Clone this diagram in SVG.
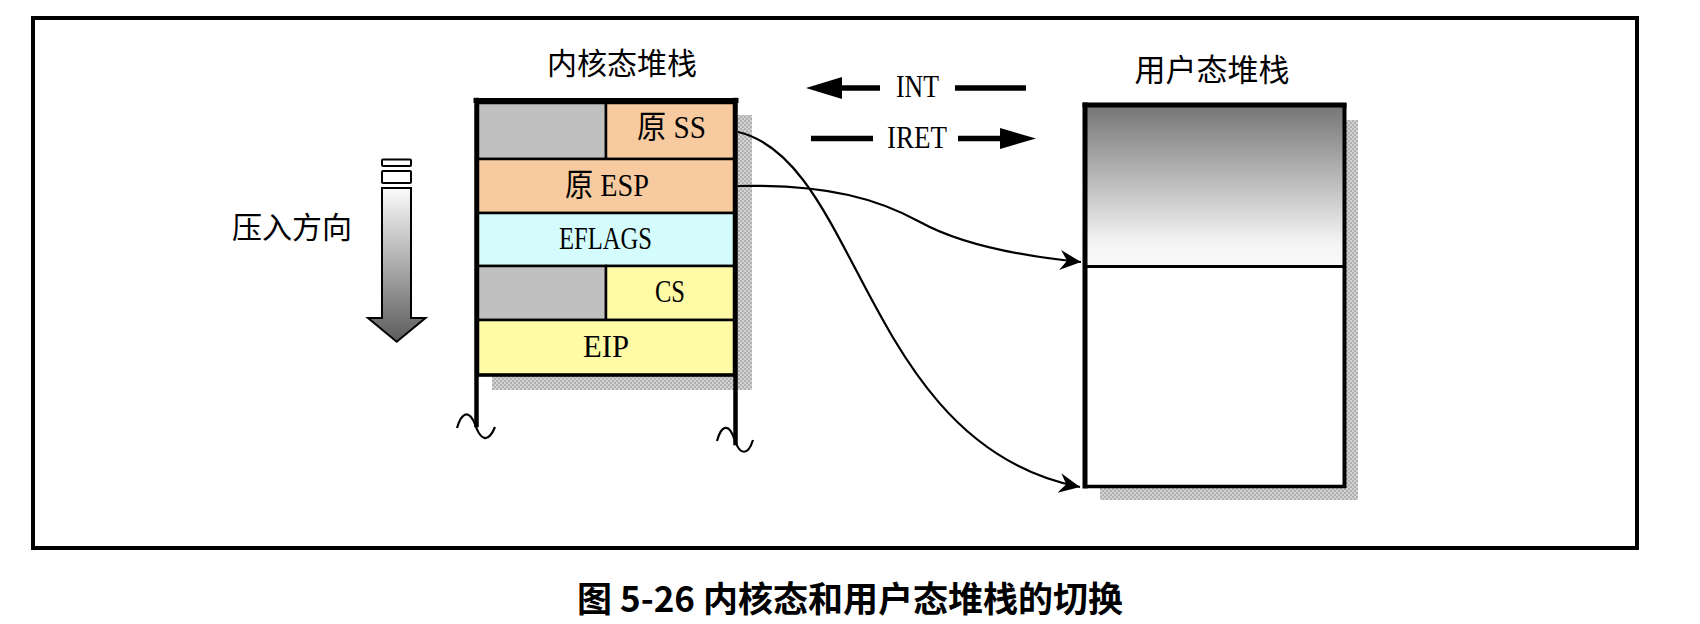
<svg xmlns="http://www.w3.org/2000/svg" width="1700" height="624" viewBox="0 0 1700 624">
<style>
.cjk{font-family:"Noto Sans CJK SC","Noto Sans CJK JP",sans-serif;fill:#000}
.lat{font-family:"Liberation Serif","Noto Sans CJK SC",serif;fill:#000;font-size:32px}
.cell{stroke:#000;stroke-width:2.5}
.edge{fill:none;stroke:#000;stroke-width:2.2}
.thick{stroke:#000;fill:none;stroke-linecap:square}
</style>
<defs>
<pattern id="dots" width="4" height="4" patternUnits="userSpaceOnUse">
<rect width="4" height="4" fill="#d2d2d2"/>
<rect width="2" height="2" fill="#b0b0b0"/>
<rect x="2" y="2" width="2" height="2" fill="#b0b0b0"/>
</pattern>
<linearGradient id="ug" x1="0" y1="0" x2="0" y2="1">
<stop offset="0" stop-color="#757575"/>
<stop offset="0.45" stop-color="#b8b8b8"/>
<stop offset="0.85" stop-color="#f4f4f4"/>
<stop offset="1" stop-color="#fafafa"/>
</linearGradient>
<linearGradient id="pg" x1="0" y1="0" x2="0" y2="1">
<stop offset="0" stop-color="#fbfbfb"/>
<stop offset="1" stop-color="#5c5c5c"/>
</linearGradient>
<marker id="barb" markerUnits="userSpaceOnUse" viewBox="-22 -12 24 24" refX="0" refY="0" markerWidth="24" markerHeight="24" orient="auto">
<path d="M0,0 L-21,-10 L-14,0 L-21,10 Z" fill="#000"/>
</marker>
</defs>
<rect width="1700" height="624" fill="#fff"/>
<g id="frame"><rect x="33" y="18" width="1604" height="530" fill="none" stroke="#000" stroke-width="4"/></g>

<g id="kernel-stack">
<text class="cjk" x="622" y="74" font-size="30" text-anchor="middle">内核态堆栈</text>
<rect x="492" y="115" width="260" height="275" fill="url(#dots)"/>
<rect class="cell" x="478" y="103" width="128" height="56" fill="#c0c0c0"/>
<rect class="cell" x="606" y="103" width="128" height="56" fill="#f7cb9f"/>
<rect class="cell" x="478" y="159" width="256" height="54" fill="#f7cb9f"/>
<rect class="cell" x="478" y="213" width="256" height="53" fill="#d4fcfc"/>
<rect class="cell" x="478" y="266" width="128" height="54" fill="#c0c0c0"/>
<rect class="cell" x="606" y="266" width="128" height="54" fill="#fefaa6"/>
<rect class="cell" x="478" y="320" width="256" height="55" fill="#fefaa6"/>
<line class="thick" x1="476" y1="100.5" x2="736" y2="100.5" stroke-width="5"/>
<line class="thick" x1="476.5" y1="100" x2="476.5" y2="425" stroke-width="4.5" stroke-linecap="butt"/>
<line class="thick" x1="735.5" y1="100" x2="735.5" y2="443" stroke-width="4.5" stroke-linecap="butt"/>
<line x1="478" y1="375" x2="734" y2="375" stroke="#000" stroke-width="3.5"/>
<path class="edge" d="M457,428 C461,414 468,408 475,424 C480,440 488,444 495,427" stroke-width="3"/>
<path class="edge" d="M717,441 C721,426 729,421 735,441 C740,455 748,456 753,440" stroke-width="3"/>
<text class="lat" x="637" y="138" textLength="69" lengthAdjust="spacingAndGlyphs">原 SS</text>
<text class="lat" x="565" y="196" textLength="84" lengthAdjust="spacingAndGlyphs">原 ESP</text>
<text class="lat" x="559" y="249" textLength="93" lengthAdjust="spacingAndGlyphs">EFLAGS</text>
<text class="lat" x="655" y="302" textLength="30" lengthAdjust="spacingAndGlyphs">CS</text>
<text class="lat" x="583" y="357" textLength="46" lengthAdjust="spacingAndGlyphs">EIP</text>
</g>

<g id="push-direction">
<text class="cjk" x="292" y="238" font-size="30" text-anchor="middle">压入方向</text>
<rect x="382" y="159.5" width="29" height="6.5" rx="1" fill="#fff" stroke="#000" stroke-width="2"/>
<rect x="382" y="171" width="29" height="12" rx="1" fill="#fff" stroke="#000" stroke-width="2"/>
<path d="M382,188 L411,188 L411,318 L425.5,318 L396.7,341.7 L368,318 L382,318 Z" fill="url(#pg)" stroke="#000" stroke-width="2" stroke-linejoin="miter"/>
</g>

<g id="user-stack">
<text class="cjk" x="1212" y="81" font-size="31" text-anchor="middle">用户态堆栈</text>
<rect x="1100" y="120" width="258" height="380" fill="url(#dots)"/>
<rect x="1085" y="105" width="259" height="162" fill="url(#ug)"/>
<rect x="1085" y="267" width="259" height="219" fill="#fff"/>
<line x1="1085" y1="102.5" x2="1085" y2="488.5" stroke="#000" stroke-width="5"/>
<line x1="1082.5" y1="105" x2="1346.5" y2="105" stroke="#000" stroke-width="5"/>
<line x1="1344.5" y1="103" x2="1344.5" y2="488" stroke="#000" stroke-width="4"/>
<line x1="1085" y1="266.5" x2="1345" y2="266.5" stroke="#000" stroke-width="3"/>
<line x1="1085" y1="486.5" x2="1346" y2="486.5" stroke="#000" stroke-width="3.5"/>
</g>

<g id="int-iret">
<text class="lat" x="896" y="97" font-size="31" textLength="43" lengthAdjust="spacingAndGlyphs">INT</text>
<line x1="840" y1="88" x2="880" y2="88" stroke="#000" stroke-width="5.5"/>
<polygon points="806,88 842,77 842,99" fill="#000"/>
<line x1="955" y1="88" x2="1026" y2="88" stroke="#000" stroke-width="5.5"/>
<text class="lat" x="887" y="148" font-size="31" textLength="60" lengthAdjust="spacingAndGlyphs">IRET</text>
<line x1="811" y1="138.5" x2="873" y2="138.5" stroke="#000" stroke-width="5.5"/>
<line x1="958" y1="138.5" x2="1002" y2="138.5" stroke="#000" stroke-width="5.5"/>
<polygon points="1000,128 1036,138.5 1000,149" fill="#000"/>
</g>

<g id="connectors">
<path class="edge" d="M738,132 C860,160 865,445 1080,487" marker-end="url(#barb)"/>
<path class="edge" d="M738,186 C830,184 880,200 920,222 S1020,256 1081,262" marker-end="url(#barb)"/>
</g>

<g id="caption">
<text class="cjk" x="850" y="612" font-size="35" font-weight="bold" text-anchor="middle">图 5-26 内核态和用户态堆栈的切换</text>
</g>
</svg>
